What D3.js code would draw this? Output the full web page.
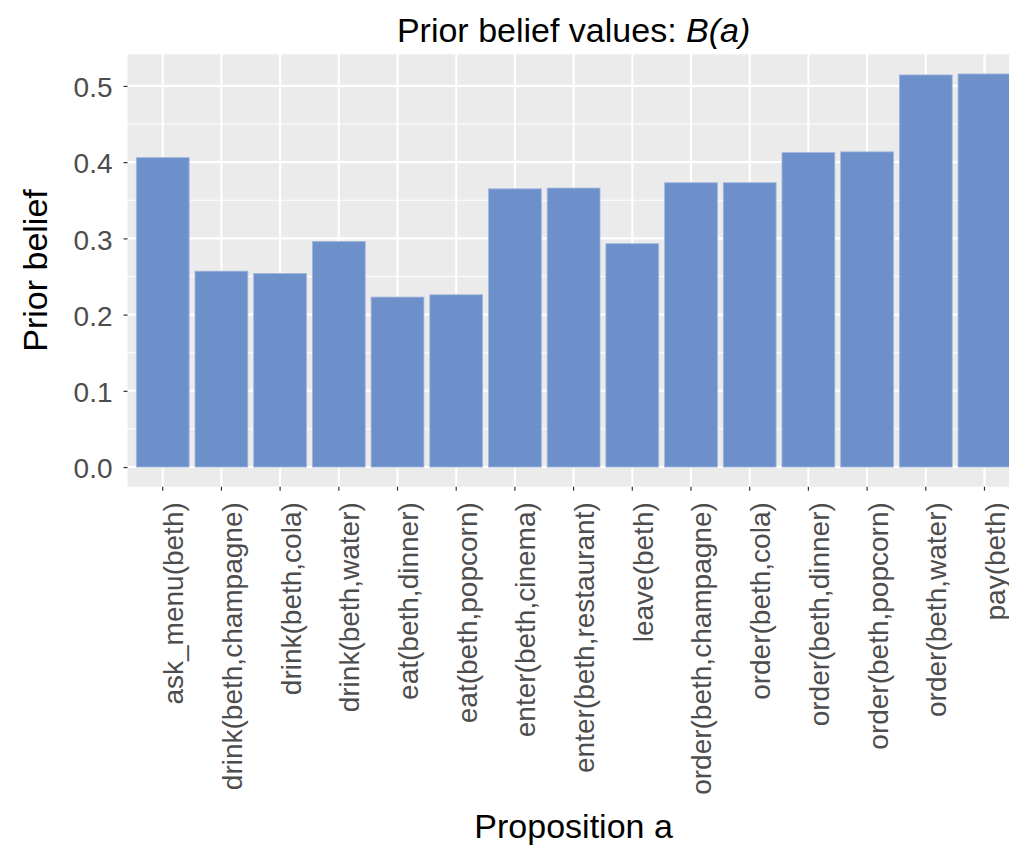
<!DOCTYPE html>
<html>
<head>
<meta charset="utf-8">
<script src="https://cdn.jsdelivr.net/npm/d3@7"></script>
<style>
  html, body { margin: 0; padding: 0; background: #fff; overflow: hidden; }
  svg { display: block; font-family: "Liberation Sans", Arial, Helvetica, sans-serif; }
</style>
</head>
<body>
<svg id="chart" width="1009" height="846"></svg>
<script>
const categories = [
  "ask_menu(beth)", "drink(beth,champagne)", "drink(beth,cola)", "drink(beth,water)",
  "eat(beth,dinner)", "eat(beth,popcorn)", "enter(beth,cinema)", "enter(beth,restaurant)",
  "leave(beth)", "order(beth,champagne)", "order(beth,cola)", "order(beth,dinner)",
  "order(beth,popcorn)", "order(beth,water)", "pay(beth)"
];
const priorBelief = [
  0.406, 0.257, 0.254, 0.296,
  0.223, 0.226, 0.365, 0.366,
  0.293, 0.373, 0.373, 0.4125,
  0.4135, 0.5144, 0.5157
];
const yTicks = [0.0, 0.1, 0.2, 0.3, 0.4, 0.5];
const yMinorTicks = [0.05, 0.15, 0.25, 0.35, 0.45];

const svg = d3.select("#chart");

const panel = { left: 127.5, right: 1019.7, top: 54.3, bottom: 486.7 };

const maxV = d3.max(priorBelief);
const yExp = 0.05 * maxV;
const y = d3.scaleLinear()
  .domain([0 - yExp, maxV + yExp])
  .range([panel.bottom, panel.top]);

const x = d3.scaleBand()
  .domain(categories)
  .range([panel.left, panel.right])
  .paddingInner(0.1)
  .paddingOuter(0.15);

const cx = d => x(d) + x.bandwidth() / 2;

// panel background
svg.append("rect")
  .attr("x", panel.left).attr("y", panel.top)
  .attr("width", panel.right - panel.left)
  .attr("height", panel.bottom - panel.top)
  .attr("fill", "#ebebeb");

// minor grid
svg.append("g").selectAll("line").data(yMinorTicks).join("line")
  .attr("x1", panel.left).attr("x2", panel.right)
  .attr("y1", d => y(d)).attr("y2", d => y(d))
  .attr("stroke", "#fff").attr("stroke-width", 1.1);

// major grid
svg.append("g").selectAll("line").data(yTicks).join("line")
  .attr("x1", panel.left).attr("x2", panel.right)
  .attr("y1", d => y(d)).attr("y2", d => y(d))
  .attr("stroke", "#fff").attr("stroke-width", 2.1);

svg.append("g").selectAll("line").data(categories).join("line")
  .attr("x1", d => cx(d)).attr("x2", d => cx(d))
  .attr("y1", panel.top).attr("y2", panel.bottom)
  .attr("stroke", "#fff").attr("stroke-width", 2.1);

// bars
svg.append("g").selectAll("rect").data(categories).join("rect")
  .attr("x", d => x(d))
  .attr("width", x.bandwidth())
  .attr("y", (d, i) => y(priorBelief[i]))
  .attr("height", (d, i) => y(0) - y(priorBelief[i]))
  .attr("fill", "#6d8fca")
  .attr("stroke", "#a3b8de")
  .attr("stroke-width", 0.8);

// y axis
const yAxis = d3.axisLeft(y).tickValues(yTicks).tickFormat(d3.format(".1f"))
  .tickSize(4).tickPadding(11);
const gy = svg.append("g").attr("transform", `translate(${panel.left},0)`).call(yAxis);
gy.select(".domain").remove();
gy.selectAll(".tick line").attr("stroke", "#333").attr("stroke-width", 1.2);
gy.selectAll(".tick text")
  .attr("fill", "#4d4d4d")
  .style("font-size", "28px")
  .style("font-family", "'Liberation Sans', Arial, sans-serif")
  .attr("dy", "0.38em");

// x axis
const xAxis = d3.axisBottom(x).tickSize(4).tickPadding(0);
const gx = svg.append("g").attr("transform", `translate(0,${panel.bottom})`).call(xAxis);
gx.select(".domain").remove();
gx.selectAll(".tick line").attr("stroke", "#333").attr("stroke-width", 1.2);
gx.selectAll(".tick text")
  .attr("fill", "#4d4d4d")
  .style("font-size", "28px")
  .style("font-family", "'Liberation Sans', Arial, sans-serif")
  .attr("text-anchor", "end")
  .attr("x", 0).attr("y", 0)
  .attr("dy", "0.73em")
  .attr("transform", "translate(0,15.5) rotate(-90)");

// titles
const midX = (panel.left + panel.right) / 2;
const title = svg.append("text")
  .attr("x", midX).attr("y", 41.7)
  .attr("text-anchor", "middle")
  .style("font-size", "34px")
  .attr("fill", "#000");
title.append("tspan").text("Prior belief values: ");
title.append("tspan").style("font-style", "italic").text("B(a)");

svg.append("text")
  .attr("x", midX).attr("y", 838.3)
  .attr("text-anchor", "middle")
  .style("font-size", "34px")
  .attr("fill", "#000")
  .text("Proposition a");

svg.append("text")
  .attr("transform", `translate(46.5,${(panel.top + panel.bottom) / 2}) rotate(-90)`)
  .attr("text-anchor", "middle")
  .style("font-size", "34px")
  .attr("fill", "#000")
  .text("Prior belief");
</script>
</body>
</html>
